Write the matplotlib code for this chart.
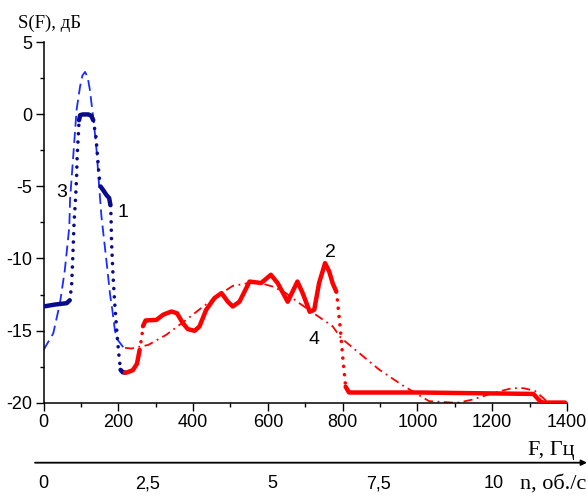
import numpy as np
import matplotlib
matplotlib.use('Agg')
from matplotlib import pyplot
from matplotlib import font_manager
from matplotlib.collections import LineCollection

# curve 1: measured spectrum, low band (blue)
f1 = [0, 30, 62, 70, 75, 78, 82, 83, 86, 88.5, 90, 93, 95, 98, 105, 120,
      128, 133, 140, 144.5, 148, 152.5, 159.5, 168.5, 175.5, 179, 180.5,
      182, 186, 191, 197, 202, 206, 212, 218]
s1 = [-13.33, -13.2, -13.1, -12.9, -11.95, -10.1, -7.3, -7.0, -5.7, -4.3,
      -2.9, -1.5, -0.4, -0.05, 0.0, 0.0, -0.1, -0.4, -1.5, -2.9, -4.1, -5.0,
      -5.25, -5.6, -5.8, -6.3, -7.0, -8.9, -11.25, -13.33, -15.4, -16.8,
      -17.73, -17.9, -17.92]

# curve 2: measured spectrum, high band (red)
f2 = [218, 222, 239, 250, 257, 263, 266, 273, 302, 320, 342, 357, 373, 386,
      404, 417, 435, 457, 476, 493, 506, 524, 551, 582, 608, 626, 653, 679,
      693, 712, 724, 737, 753, 764, 773, 783, 786, 794, 800, 808, 817, 1000,
      1310, 1328, 1335, 1395]
s2 = [-17.92, -17.92, -17.75, -17.3, -16.35, -15.4, -14.7, -14.3, -14.26,
      -13.9, -13.68, -13.8, -14.5, -14.9, -15.02, -14.72, -13.56, -12.75,
      -12.4, -13.0, -13.33, -13.0, -11.6, -11.7, -11.13, -11.7, -13.0, -11.6,
      -12.4, -13.7, -13.56, -11.7, -10.32, -10.9, -11.7, -12.3, -12.9,
      -14.95, -16.8, -18.9, -19.3, -19.3, -19.4, -19.9, -20.0, -20.0]

# curve 3: model, low band (dashed blue)
f3 = [0, 26, 44, 57, 69, 71, 79.5, 88.5, 97.5, 104, 111, 118, 124, 134.7,
      141.8, 148.8, 155, 168, 178, 184, 191, 197, 213, 218]
s3 = [-16.35, -15.2, -13.1, -10.8, -7.8, -5.9, -2.9, 0.33, 1.9, 2.7, 2.95,
      2.6, 1.7, -0.6, -2.45, -5.0, -7.1, -10.1, -12.5, -13.56, -15.0, -15.6,
      -16.15, -16.3]

# curve 4: model, high band (dash-dot red)
f4 = [218, 235, 280, 328, 382, 426, 471, 506, 550, 586, 613, 648, 684, 728,
      773, 795, 897, 960, 1031, 1092, 1110, 1146, 1208, 1253, 1284, 1315,
      1337, 1345]
s4 = [-16.2, -16.25, -16.0, -15.3, -14.25, -13.35, -12.5, -11.9, -11.7,
      -11.75, -11.95, -12.4, -13.1, -13.9, -14.7, -15.5, -17.7, -18.8, -19.9,
      -20.0, -20.0, -19.8, -19.3, -19.0, -19.0, -19.2, -19.7, -19.9]

curve_labels = ['1', '2', '3', '4']
curve_label_pos = [(213, -6.8), (768, -9.55), (48, -5.45), (724, -15.6)]

n_ticks = ['0', '2,5', '5', '7,5', '10']
n_pos = [-1, 279, 612, 895, 1204]

NAVY = '#0a0a8c'
BLUE = '#1a2cff'
RED = '#ff0000'


def _have(name):
    return any(f.name == name for f in font_manager.fontManager.ttflist)


if _have('Liberation Sans Narrow'):
    SANS = ['Liberation Sans Narrow', 'Liberation Sans']
    TICK_SIZE = 14.5
else:
    SANS = ['Liberation Sans', 'DejaVu Sans']
    TICK_SIZE = 13
SERIF = ['Liberation Serif', 'DejaVu Serif']

pyplot.rcParams['font.family'] = SANS
pyplot.rcParams['axes.unicode_minus'] = False


def _split_runs(ax, xs, ys, steep=5.8):
    '''Split a polyline into runs of flat and steep segments (screen space).'''
    pts = ax.transData.transform(np.column_stack([xs, ys]))
    d = np.diff(pts, axis=0)
    is_steep = np.abs(d[:, 1]) > steep * np.abs(d[:, 0])
    runs = {True: [], False: []}
    start = 0
    for i in range(1, len(is_steep) + 1):
        if i == len(is_steep) or is_steep[i] != is_steep[start]:
            seg = np.column_stack([xs[start:i + 1], ys[start:i + 1]])
            runs[bool(is_steep[start])].append(seg)
            start = i
    return runs


def _plot_measured(ax, xs, ys, color, z):
    '''Thick line where flat, row of dots where steep.'''
    runs = _split_runs(ax, np.asarray(xs, float), np.asarray(ys, float))
    solid = LineCollection(runs[False], colors=color, linewidths=3.2,
                           zorder=z)
    solid.set_capstyle('round')
    solid.set_joinstyle('round')
    ax.add_collection(solid)
    dots = LineCollection(runs[True], colors=color, linewidths=2.6,
                          linestyles=[(0, (0.01, 2.3))], zorder=z)
    dots.set_capstyle('round')
    ax.add_collection(dots)


def main():
    fig = pyplot.figure(figsize=(5.88, 4.97), dpi=100)
    ax = fig.add_axes([0.074, 0.19, 0.8903, 0.7247])
    ax.set_xlim(0, 1400)
    ax.set_ylim(-20, 5)

    ax.plot(f3, s3, color=BLUE, lw=1.3, dashes=(6, 3), zorder=2)
    ax.plot(f4, s4, color=RED, lw=1.3, dashes=(5, 2.5, 1, 2.5), zorder=2)
    _plot_measured(ax, f1, s1, NAVY, 3)
    _plot_measured(ax, f2, s2, RED, 3)

    for lab, (x, y) in zip(curve_labels, curve_label_pos):
        ax.text(x, y, lab, fontsize=14, ha='center', va='center',
                zorder=5)

    for side in ('top', 'right'):
        ax.spines[side].set_visible(False)
    for side in ('left', 'bottom'):
        ax.spines[side].set_linewidth(1.1)

    ax.set_xticks(np.arange(0, 1401, 200))
    ax.set_xticks(np.arange(0, 1401, 100), minor=True)
    ax.set_yticks(np.arange(-20, 6, 5))
    ax.set_yticks(np.arange(-20, 6, 2.5), minor=True)
    ax.tick_params(which='major', direction='out', length=5.5, width=1.0,
                   labelsize=TICK_SIZE, pad=2.5)
    ax.tick_params(which='minor', direction='out', length=3, width=1.0)

    fig.text(50 / 588, 1 - 23 / 497, 'S(F), дБ', family=SERIF, fontsize=13.5,
             ha='center', va='center')
    fig.text(551 / 588, 1 - 450 / 497, 'F, Гц', family=SERIF, fontsize=16,
             ha='center', va='center')

    # second scale: shaft rotation rate
    y_arrow = 1 - 462.7 / 497
    ax.annotate('', xy=(587 / 588, y_arrow), xytext=(35 / 588, y_arrow),
                xycoords='figure fraction', textcoords='figure fraction',
                arrowprops=dict(arrowstyle='-|>', lw=1.3, color='k',
                                mutation_scale=8, shrinkA=0, shrinkB=0))
    trans = matplotlib.transforms.blended_transform_factory(ax.transData,
                                                            fig.transFigure)
    for lab, x in zip(n_ticks, n_pos):
        ax.text(x, 1 - 484 / 497, lab, transform=trans, fontsize=TICK_SIZE,
                ha='center', va='center', clip_on=False)
    fig.text(553 / 588, 1 - 484 / 497, 'n, об./с', family=SERIF, fontsize=16,
             ha='center', va='center')

    fig.savefig('out.png', dpi=100)


if __name__ == '__main__':
    main()
